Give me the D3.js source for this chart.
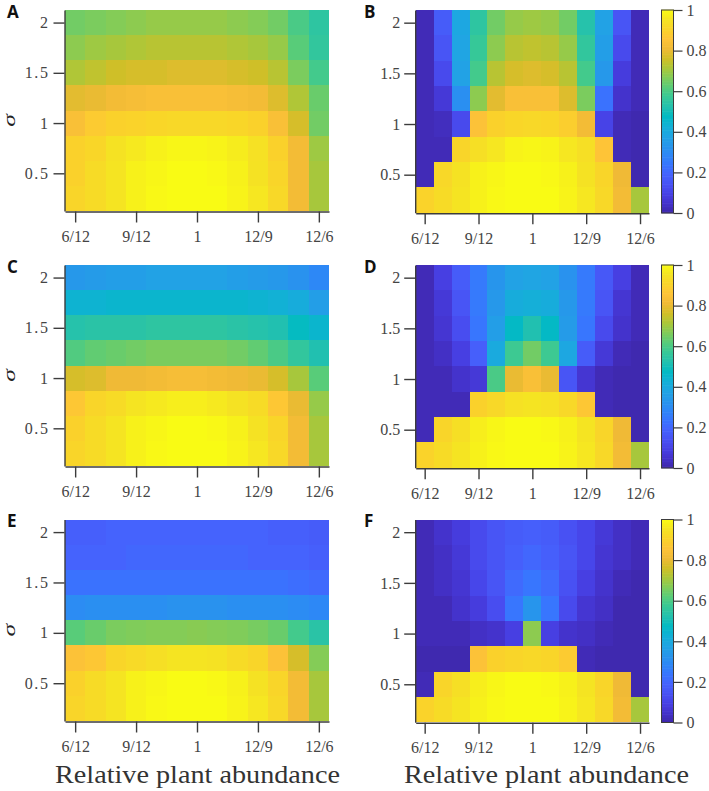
<!DOCTYPE html>
<html>
<head>
<meta charset="utf-8">
<script src="https://cdn.jsdelivr.net/npm/d3@7/dist/d3.min.js"></script>
<style>
  html, body { margin: 0; padding: 0; background: #fff; }
  svg { display: block; }
</style>
</head>
<body>
<svg id="chart" width="709" height="791"></svg>
<script>
// Row order is top to bottom: sigma 2 down to 0.25. Columns run from 6/12 to 12/6.
const sigmas = [2, 1.75, 1.5, 1.25, 1, 0.75, 0.5, 0.25];
const abundanceTicks = [0, 3, 6, 9, 12];
const abundanceLabels = ["6/12", "9/12", "1", "12/9", "12/6"];
const sigmaTicks = [0.5, 1, 1.5, 2];
const colorbarTicks = [0, 0.2, 0.4, 0.6, 0.8, 1];

const panelA = [
  [.65,.66,.67,.68,.69,.69,.69,.69,.68,.67,.65,.60,.55],
  [.68,.70,.71,.72,.73,.73,.73,.73,.72,.71,.69,.62,.56],
  [.72,.74,.76,.77,.77,.78,.78,.78,.77,.76,.73,.66,.59],
  [.79,.80,.82,.83,.84,.84,.84,.84,.83,.82,.78,.72,.64],
  [.84,.88,.90,.905,.915,.92,.92,.92,.915,.90,.84,.77,.65],
  [.90,.915,.95,.965,.98,.99,.99,.985,.97,.945,.90,.82,.70],
  [.90,.93,.955,.98,.99,1,1,.995,.98,.95,.91,.82,.71],
  [.91,.93,.955,.98,.995,1,1,1,.985,.96,.92,.82,.71]
];
const panelB = [
  [.02,.17,.39,.55,.65,.69,.70,.69,.65,.53,.37,.15,.02],
  [.02,.15,.38,.57,.68,.73,.74,.73,.69,.56,.36,.12,.02],
  [.02,.12,.37,.59,.73,.77,.78,.77,.73,.59,.34,.08,.02],
  [.02,.07,.31,.68,.79,.84,.84,.84,.78,.66,.23,.05,.02],
  [.02,.03,.12,.85,.90,.915,.92,.915,.89,.82,.10,.02,.01],
  [.02,.02,.91,.94,.96,.985,.99,.985,.96,.94,.86,.02,.01],
  [.02,.92,.95,.98,.99,1,1,.995,.98,.95,.91,.81,.01],
  [.905,.93,.955,.98,.995,1,1,1,.985,.96,.92,.82,.71]
];
const panelC = [
  [.34,.35,.36,.36,.37,.37,.37,.37,.36,.35,.34,.32,.29],
  [.44,.44,.45,.45,.45,.45,.45,.45,.45,.44,.43,.41,.36],
  [.53,.54,.54,.54,.55,.55,.55,.55,.54,.53,.52,.48,.45],
  [.61,.63,.64,.65,.66,.66,.66,.66,.65,.63,.60,.56,.52],
  [.77,.78,.81,.81,.82,.83,.83,.82,.81,.80,.77,.71,.62],
  [.87,.91,.93,.955,.965,.975,.975,.965,.95,.93,.87,.80,.69],
  [.90,.93,.955,.98,.99,1,1,.995,.98,.95,.91,.82,.71],
  [.91,.93,.955,.98,.995,1,1,1,.985,.96,.92,.82,.71]
];
const panelD = [
  [.02,.09,.17,.25,.33,.37,.38,.37,.32,.25,.16,.09,.02],
  [.02,.07,.15,.25,.34,.41,.42,.41,.34,.25,.15,.06,.02],
  [.02,.06,.13,.24,.36,.47,.52,.47,.35,.24,.12,.05,.02],
  [.02,.04,.09,.18,.40,.58,.65,.58,.39,.17,.07,.02,.01],
  [.02,.02,.05,.07,.60,.80,.84,.80,.15,.06,.02,.01,.01],
  [.02,.02,.02,.90,.92,.945,.955,.945,.92,.87,.02,.01,.01],
  [.02,.91,.94,.975,.99,1,1,.995,.98,.955,.91,.81,.01],
  [.905,.93,.955,.98,.995,1,1,1,.985,.96,.92,.82,.71]
];
const panelE = [
  [.18,.18,.19,.19,.19,.19,.19,.19,.19,.19,.18,.18,.17],
  [.19,.19,.19,.20,.20,.20,.20,.20,.20,.19,.19,.19,.18],
  [.23,.23,.23,.23,.23,.23,.23,.23,.23,.23,.23,.22,.21],
  [.30,.31,.31,.31,.31,.32,.32,.32,.31,.31,.31,.30,.29],
  [.62,.64,.66,.665,.67,.67,.675,.67,.665,.655,.64,.59,.54],
  [.85,.87,.91,.925,.94,.955,.955,.95,.93,.91,.85,.77,.67],
  [.90,.93,.955,.98,.99,1,1,.995,.98,.95,.91,.82,.71],
  [.91,.93,.955,.98,.995,1,1,1,.985,.96,.92,.82,.71]
];
const panelF = [
  [.02,.05,.08,.12,.15,.17,.18,.17,.14,.11,.07,.04,.02],
  [.02,.04,.07,.12,.15,.18,.20,.18,.15,.11,.06,.04,.02],
  [.02,.04,.06,.11,.15,.21,.24,.21,.14,.09,.05,.02,.01],
  [.02,.02,.05,.08,.13,.24,.33,.24,.12,.06,.04,.01,.01],
  [.02,.02,.02,.04,.05,.09,.68,.09,.05,.04,.02,.01,.01],
  [.01,.01,.01,.85,.90,.91,.92,.91,.88,.02,.01,.01,.01],
  [.02,.91,.94,.975,.99,1,1,.995,.98,.955,.91,.81,.01],
  [.905,.93,.955,.98,.995,1,1,1,.985,.96,.92,.82,.71]
];

// Parula colour ramp, sampled at even steps from 0 to 1.
const parulaStops = [
  [62,38,168],[68,50,203],[71,65,229],[72,82,244],[69,99,253],[56,117,254],
  [46,135,247],[39,150,235],[32,165,227],[18,177,214],[2,186,195],[36,193,174],
  [55,200,151],[87,204,122],[129,204,89],[171,199,57],[209,191,39],[240,186,54],
  [254,195,56],[250,211,42],[245,227,35],[249,251,20]
];
const valueColor = d3.scaleLinear()
  .domain(d3.range(parulaStops.length).map(i => i / (parulaStops.length - 1)))
  .range(parulaStops.map(c => d3.rgb(c[0], c[1], c[2])));

const svg = d3.select("#chart");
const ink = "#3c3c3c";
const labelInk = "#444";
const serif = "'Liberation Serif', serif";

function drawHeatmap({ data, letter, x0, x1, top, bottom, letterX, letterY, wideLabels, xTitle }) {
  const x = d3.scaleLinear().domain([-0.5, 12.5]).range([x0, x1]);
  const y = d3.scaleLinear().domain([0.125, 2.125]).range([bottom, top]);
  const g = svg.append("g");

  sigmas.forEach((sigma, row) => {
    g.append("g").attr("shape-rendering", "crispEdges")
      .selectAll("rect").data(data[row]).join("rect")
      .attr("x", (d, i) => x(i - 0.5))
      .attr("y", y(sigma + 0.125))
      .attr("width", x(1) - x(0))
      .attr("height", y(0) - y(0.25))
      .attr("fill", d => valueColor(d));
  });

  const xAxis = g.append("g")
    .attr("transform", `translate(0,${bottom + 0.5})`)
    .call(d3.axisBottom(x).tickValues(abundanceTicks)
      .tickFormat((d, i) => abundanceLabels[i])
      .tickSizeOuter(0).tickSizeInner(11).tickPadding(8));
  const yAxis = g.append("g")
    .attr("transform", `translate(${x0 - 0.5},0)`)
    .call(d3.axisLeft(y).tickValues(sigmaTicks)
      .tickFormat(d3.format("~g"))
      .tickSizeOuter(0).tickSizeInner(11).tickPadding(4));

  [xAxis, yAxis].forEach(a => {
    a.selectAll("path,line").attr("stroke", ink).attr("stroke-width", 1.4);
    a.selectAll("text").attr("fill", labelInk).attr("font-family", serif).attr("font-size", 16);
  });
  if (wideLabels) yAxis.selectAll("text").attr("letter-spacing", 1.6);

  svg.append("text").text(letter)
    .attr("x", letterX).attr("y", letterY)
    .attr("font-family", "'Open Sans', sans-serif").attr("font-weight", 700)
    .attr("font-size", 17).attr("fill", "#111");

  if (wideLabels) {
    svg.append("text").text("σ")
      .attr("transform", `translate(15.2,${(top + bottom) / 2 + 10}) rotate(-90) scale(1.5,1)`)
      .attr("text-anchor", "middle")
      .attr("font-family", serif).attr("font-style", "italic")
      .attr("font-size", 17).attr("fill", "#222");
  }

  if (xTitle) {
    svg.append("text").text("Relative plant abundance")
      .attr("x", xTitle).attr("y", 783)
      .attr("textLength", 285).attr("lengthAdjust", "spacingAndGlyphs")
      .attr("font-family", serif).attr("font-size", 25).attr("fill", "#333");
  }
}

function drawColorbar({ top, bottom }) {
  const x0 = 661.5, x1 = 673.5;
  const y = d3.scaleLinear().domain([0, 1]).range([bottom, top]);
  const g = svg.append("g");
  g.append("g").selectAll("rect").data(d3.range(0, 1, 1 / 128)).join("rect")
    .attr("x", x0).attr("width", x1 - x0)
    .attr("y", d => y(d + 1 / 128) - 0.3)
    .attr("height", y(0) - y(1 / 128) + 0.6)
    .attr("fill", d => valueColor(d + 1 / 256));
  g.append("rect")
    .attr("x", x0).attr("y", top).attr("width", x1 - x0).attr("height", bottom - top)
    .attr("fill", "none").attr("stroke", ink).attr("stroke-width", 1);
  const axis = g.append("g")
    .attr("transform", `translate(${x1},0)`)
    .call(d3.axisRight(y).tickValues(colorbarTicks).tickFormat(d3.format("~g"))
      .tickSizeOuter(0).tickSizeInner(9).tickPadding(4));
  axis.select("path").remove();
  axis.selectAll("line").attr("stroke", ink).attr("stroke-width", 1.2);
  axis.selectAll("text").attr("fill", labelInk).attr("font-family", serif).attr("font-size", 16);
}

const leftCol = { x0: 65, x1: 329 };
const rightCol = { x0: 415.7, x1: 649 };

drawHeatmap({ data: panelA, letter: "A", ...leftCol, top: 10, bottom: 211, letterX: 7, letterY: 18, wideLabels: true });
drawHeatmap({ data: panelB, letter: "B", ...rightCol, top: 10, bottom: 212.7, letterX: 364, letterY: 18 });
drawHeatmap({ data: panelC, letter: "C", ...leftCol, top: 265, bottom: 466, letterX: 7, letterY: 273, wideLabels: true });
drawHeatmap({ data: panelD, letter: "D", ...rightCol, top: 265, bottom: 467.7, letterX: 364, letterY: 273 });
drawHeatmap({ data: panelE, letter: "E", ...leftCol, top: 519.5, bottom: 721, letterX: 7, letterY: 527, wideLabels: true, xTitle: 55 });
drawHeatmap({ data: panelF, letter: "F", ...rightCol, top: 519.5, bottom: 722.3, letterX: 364, letterY: 527, xTitle: 404 });

drawColorbar({ top: 10, bottom: 213 });
drawColorbar({ top: 265, bottom: 468 });
drawColorbar({ top: 519.5, bottom: 722.5 });
</script>
</body>
</html>
